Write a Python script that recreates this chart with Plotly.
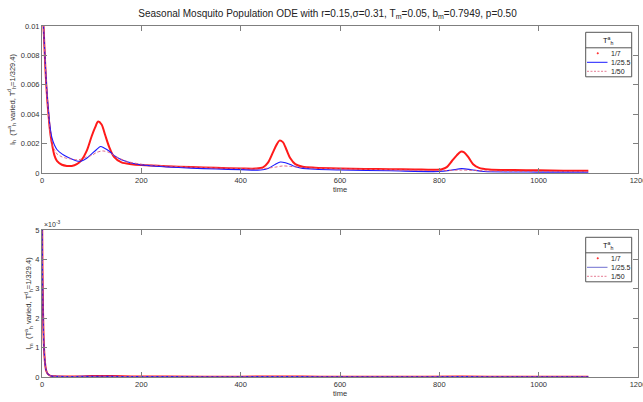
import plotly.graph_objects as go

# ---------------- data ----------------
legend_labels = ["1/7", "1/25.5", "1/50"]
x_ticks = [0, 200, 400, 600, 800, 1000, 1200]
ih_ticks = [0, 0.002, 0.004, 0.006, 0.008, 0.01]
ih_ticklabels = ["0", "0.002", "0.004", "0.006", "0.008", "0.01"]
im_ticks = [0, 0.001, 0.002, 0.003, 0.004, 0.005]
im_ticklabels = ["0", "1", "2", "3", "4", "5"]

# I_h, T_h^a = 1/7
t_h7 = [0, 3, 5, 7, 9, 11, 13, 16, 20, 25, 30, 40, 50, 60, 70, 80, 90, 100, 107, 113, 120,
        127, 135, 145, 160, 180, 200, 250, 300, 350, 400, 430, 445, 455, 465, 472, 478,
        485, 492, 500, 510, 525, 550, 600, 650, 700, 750, 790, 805, 815, 825, 835, 843,
        850, 858, 868, 880, 900, 950, 1000, 1050, 1100]
ih_7 = [0.0115, 0.0100, 0.0085, 0.0070, 0.0058, 0.0048, 0.0040, 0.0029, 0.0020, 0.0012,
        0.00082, 0.00056, 0.00048, 0.00048, 0.00060, 0.00090, 0.0015, 0.0025, 0.0031,
        0.0035, 0.0033, 0.0026, 0.0018, 0.0011, 0.00072, 0.00060, 0.00054, 0.00046,
        0.00040, 0.00035, 0.00031, 0.00030, 0.00038, 0.00070, 0.0014, 0.0019, 0.0022,
        0.0021, 0.0016, 0.0010, 0.00060, 0.00042, 0.00036, 0.00031, 0.00028, 0.00026,
        0.00024, 0.00022, 0.00026, 0.00040, 0.00080, 0.0012, 0.00145, 0.0014, 0.0011,
        0.00060, 0.00035, 0.00024, 0.00020, 0.00018, 0.00016, 0.00015]

# I_h, T_h^a = 1/25.5
t_h25 = [0, 3, 5, 7, 9, 11, 13, 16, 20, 25, 30, 40, 50, 60, 70, 80, 90, 100, 110, 118, 125,
         135, 145, 160, 180, 200, 250, 300, 350, 400, 440, 455, 470, 480, 490, 505, 520,
         550, 600, 700, 800, 825, 845, 865, 890, 950, 1000, 1100]
ih_25 = [0.0115, 0.0100, 0.0086, 0.0072, 0.0060, 0.0050, 0.0042, 0.0032, 0.0024, 0.0019,
         0.0016, 0.0013, 0.0011, 0.00095, 0.00082, 0.00082, 0.0010, 0.0013, 0.0016,
         0.0018, 0.0017, 0.0015, 0.0012, 0.00090, 0.00068, 0.00055, 0.00042, 0.00033,
         0.00027, 0.00023, 0.00020, 0.00030, 0.00060, 0.00075, 0.00070, 0.00050, 0.00035,
         0.00025, 0.00020, 0.00015, 0.00010, 0.00020, 0.00030, 0.00022, 0.00010, 0.00007,
         0.00006, 0.00005]

# I_h, T_h^a = 1/50
t_h50 = [0, 3, 5, 7, 9, 11, 13, 16, 20, 25, 30, 40, 50, 60, 70, 80, 90, 100, 110, 122, 135,
         150, 170, 200, 250, 300, 400, 440, 470, 485, 500, 530, 600, 700, 800, 845, 900,
         1000, 1100]
ih_50 = [0.0115, 0.0100, 0.0085, 0.0071, 0.0058, 0.0048, 0.0040, 0.0028, 0.0019, 0.0016,
         0.0013, 0.0011, 0.0010, 0.00095, 0.00090, 0.00095, 0.0011, 0.0012, 0.0014,
         0.0015, 0.0014, 0.0011, 0.00080, 0.00060, 0.00048, 0.00040, 0.00030, 0.00028,
         0.00040, 0.00048, 0.00045, 0.00035, 0.00028, 0.00022, 0.00016, 0.00020, 0.00014,
         0.00010, 0.00009]

# I_m, all three T_h^a values (curves nearly coincide)
t_m = [0, 1, 2, 3, 4, 6, 8, 11, 15, 20, 30, 50, 80, 100, 118, 140, 180, 250, 400, 480,
       560, 700, 845, 950, 1100]
im_7 = [0.0060, 0.0036, 0.0023, 0.0015, 0.0010, 0.00050, 0.00025, 0.00012, 0.00006,
        0.00003, 0.00002, 0.000015, 0.00002, 0.00003, 0.000035, 0.00003, 0.00002,
        0.000015, 0.00001, 0.00002, 0.00001, 0.00001, 0.000015, 0.00001, 0.00001]
im_25 = [0.0060, 0.0036, 0.0023, 0.0015, 0.0010, 0.00050, 0.00025, 0.00012, 0.00006,
         0.00003, 0.00002, 0.000015, 0.00002, 0.00002, 0.000025, 0.00002, 0.000015,
         0.000012, 0.00001, 0.000015, 0.00001, 0.00001, 0.000012, 0.00001, 0.00001]
im_50 = [0.0060, 0.0036, 0.0023, 0.0015, 0.0010, 0.00050, 0.00025, 0.00012, 0.00006,
         0.00003, 0.00002, 0.000015, 0.00002, 0.00002, 0.000025, 0.00002, 0.000015,
         0.000012, 0.00001, 0.000015, 0.00001, 0.00001, 0.000012, 0.00001, 0.00001]

# ---------------- styling ----------------
RED = "#ff1a1a"
BLUE = "#1a1aff"
PINK = "#e05a78"
FONT = "Liberation Sans, Arial, sans-serif"
AXC = "#7f7f7f"
W, H = 643, 402
ML, MR, MT, MB = 42, 5, 26, 25


def px2x(px):
    return (px - ML) / (W - ML - MR)


def py2y(py):
    return (H - MB - py) / (H - MT - MB)


fig = go.Figure()


def add_panel(xr, y7, y25, y50, xs25, xs50, xax, yax):
    fig.add_trace(go.Scatter(x=xr, y=y7, mode="lines",
                             line=dict(color=RED, width=2.0, shape="spline", smoothing=0.8),
                             xaxis=xax, yaxis=yax, showlegend=False, name=legend_labels[0]))
    fig.add_trace(go.Scatter(x=xs25, y=y25, mode="lines",
                             line=dict(color=BLUE, width=1.1, shape="spline", smoothing=0.8),
                             xaxis=xax, yaxis=yax, showlegend=False, name=legend_labels[1]))
    fig.add_trace(go.Scatter(x=xs50, y=y50, mode="lines",
                             line=dict(color=PINK, width=0.9, dash="3px,2px", shape="spline", smoothing=0.8),
                             xaxis=xax, yaxis=yax, showlegend=False, name=legend_labels[2]))


add_panel(t_h7, ih_7, ih_25, ih_50, t_h25, t_h50, "x", "y")
add_panel(t_m, im_7, im_25, im_50, t_m, t_m, "x2", "y2")

shapes = []
annotations = []


def add_legend(top, blue_col):
    left, right = 585.7, 631.7
    bottom = top + 44.5
    shapes.append(dict(type="rect", xref="paper", yref="paper",
                       x0=px2x(left), x1=px2x(right), y0=py2y(bottom), y1=py2y(top),
                       line=dict(color="#555555", width=1), fillcolor="white", layer="above"))
    shapes.append(dict(type="line", xref="paper", yref="paper",
                       x0=px2x(left), x1=px2x(right), y0=py2y(top + 15.5), y1=py2y(top + 15.5),
                       line=dict(color="#555555", width=1), layer="above"))
    annotations.append(dict(text="T<sup>a</sup><sub>h</sub>", xref="paper", yref="paper",
                            x=px2x((left + right) / 2), y=py2y(top + 8), showarrow=False,
                            xanchor="center", yanchor="middle",
                            font=dict(family=FONT, size=7.5, color="#111111")))
    rows = [top + 21, top + 30, top + 39]
    shapes.append(dict(type="circle", xref="paper", yref="paper",
                       x0=px2x(597), x1=px2x(598.5), y0=py2y(rows[0] + 0.75), y1=py2y(rows[0] - 0.75),
                       line=dict(color=RED, width=0.5), fillcolor=RED, layer="above"))
    shapes.append(dict(type="line", xref="paper", yref="paper",
                       x0=px2x(587), x1=px2x(607.5), y0=py2y(rows[1]), y1=py2y(rows[1]),
                       line=dict(color=blue_col, width=1), layer="above"))
    shapes.append(dict(type="line", xref="paper", yref="paper",
                       x0=px2x(587), x1=px2x(607.5), y0=py2y(rows[2]), y1=py2y(rows[2]),
                       line=dict(color=PINK, width=0.8, dash="2px,1.5px"), layer="above"))
    for lab, ry in zip(legend_labels, rows):
        annotations.append(dict(text=lab, xref="paper", yref="paper",
                                x=px2x(608.5), y=py2y(ry), showarrow=False,
                                xanchor="left", yanchor="middle",
                                font=dict(family=FONT, size=7, color="#222222")))


add_legend(32.3, BLUE)
add_legend(237.3, "#7070d0")

annotations.append(dict(text="×10<sup>-3</sup>", xref="x2 domain", yref="y2 domain", x=0, y=1.0,
                        xanchor="left", yanchor="bottom", showarrow=False,
                        font=dict(family=FONT, size=7, color="#333333")))

axis_common = dict(showline=True, linecolor=AXC, linewidth=1, mirror="ticks", ticks="inside",
                   ticklen=5, tickcolor=AXC, showgrid=False, zeroline=False,
                   ticklabeloverflow="allow",
                   tickfont=dict(family=FONT, size=7.5, color="#333333"))

title_font = dict(family=FONT, size=7.5, color="#333333")

fig.update_layout(
    width=W, height=H,
    margin=dict(l=ML, r=MR, t=MT, b=MB, autoexpand=False),
    paper_bgcolor="white", plot_bgcolor="white",
    showlegend=False,
    hovermode=False,
    title=dict(text="Seasonal Mosquito Population ODE with r=0.15,σ=0.31, T<sub>m</sub>=0.05, b<sub>m</sub>=0.7949, p=0.50",
               x=327.5 / W, xanchor="center", y=1 - 13 / H, yanchor="middle",
               font=dict(family=FONT, size=10, color="#222222")),
    xaxis=dict(domain=[0, 1], range=[0, 1200], tickvals=x_ticks, anchor="y",
               title=dict(text="time", standoff=1, font=title_font), **axis_common),
    yaxis=dict(domain=[py2y(173), 1], range=[0, 0.01], tickvals=ih_ticks, ticktext=ih_ticklabels, anchor="x",
               title=dict(text="I<sub>h</sub>  (T<sup>a</sup><sub>h</sub> varied, T<sup>d</sup><sub>h</sub>=1/329.4)",
                          standoff=4, font=title_font), **axis_common),
    xaxis2=dict(domain=[0, 1], range=[0, 1200], tickvals=x_ticks, anchor="y2",
                title=dict(text="time", standoff=1, font=title_font), **axis_common),
    yaxis2=dict(domain=[0, py2y(230)], range=[0, 0.005], tickvals=im_ticks, ticktext=im_ticklabels, anchor="x2",
                title=dict(text="I<sub>m</sub>  (T<sup>a</sup><sub>h</sub> varied, T<sup>d</sup><sub>h</sub>=1/329.4)",
                           standoff=2, font=title_font), **axis_common),
    shapes=shapes,
    annotations=annotations,
)

fig.write_html("out.html", config={"displayModeBar": False},
               post_script="document.body.style.margin='0';document.body.style.padding='0';")
